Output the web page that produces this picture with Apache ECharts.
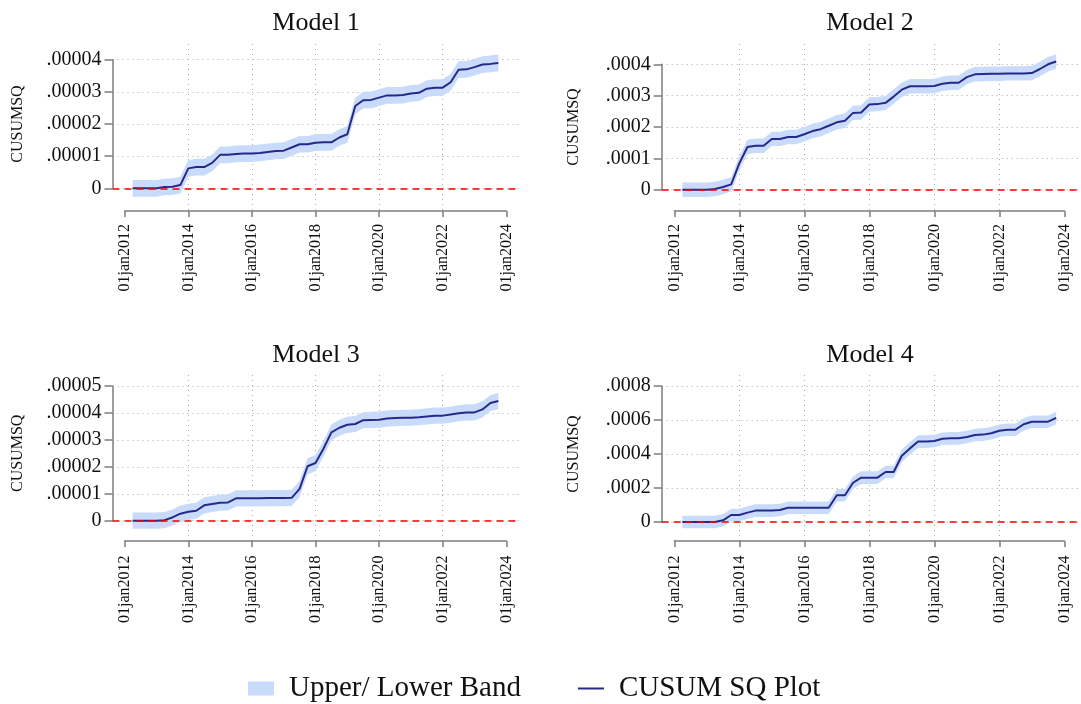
<!DOCTYPE html>
<html>
<head>
<meta charset="utf-8">
<title>CUSUM SQ</title>
<script src="https://cdn.jsdelivr.net/npm/echarts@6/dist/echarts.min.js"></script>
<style>
  html, body { margin: 0; padding: 0; background: #fff; }
  #main { width: 1081px; height: 704px; }
</style>
</head>
<body>
<div id="main"></div>
<script>
// quarterly observations
const quarters = [
  "2012q2", "2012q3", "2012q4",
  "2013q1", "2013q2", "2013q3", "2013q4",
  "2014q1", "2014q2", "2014q3", "2014q4",
  "2015q1", "2015q2", "2015q3", "2015q4",
  "2016q1", "2016q2", "2016q3", "2016q4",
  "2017q1", "2017q2", "2017q3", "2017q4",
  "2018q1", "2018q2", "2018q3", "2018q4",
  "2019q1", "2019q2", "2019q3", "2019q4",
  "2020q1", "2020q2", "2020q3", "2020q4",
  "2021q1", "2021q2", "2021q3", "2021q4",
  "2022q1", "2022q2", "2022q3", "2022q4",
  "2023q1", "2023q2", "2023q3", "2023q4"
];

const model1Cusum = [0, 0, 0, 0, 0.04e-5, 0.05e-5, 0.1e-5, 0.62e-5, 0.66e-5, 0.66e-5,
  0.79e-5, 1.04e-5, 1.04e-5, 1.07e-5, 1.08e-5, 1.08e-5, 1.1e-5, 1.13e-5, 1.16e-5, 1.17e-5,
  1.27e-5, 1.37e-5, 1.37e-5, 1.42e-5, 1.43e-5, 1.43e-5, 1.58e-5, 1.68e-5, 2.56e-5, 2.74e-5,
  2.75e-5, 2.82e-5, 2.89e-5, 2.89e-5, 2.9e-5, 2.95e-5, 2.97e-5, 3.1e-5, 3.13e-5, 3.13e-5,
  3.3e-5, 3.69e-5, 3.7e-5, 3.77e-5, 3.85e-5, 3.87e-5, 3.9e-5];

const model2Cusum = [0, 0, 0, 0, 0.02e-4, 0.085e-4, 0.17e-4, 0.84e-4, 1.36e-4, 1.4e-4,
  1.4e-4, 1.62e-4, 1.62e-4, 1.68e-4, 1.68e-4, 1.77e-4, 1.87e-4, 1.93e-4, 2.04e-4, 2.15e-4,
  2.2e-4, 2.45e-4, 2.46e-4, 2.72e-4, 2.73e-4, 2.77e-4, 2.97e-4, 3.19e-4, 3.3e-4, 3.3e-4,
  3.3e-4, 3.31e-4, 3.38e-4, 3.41e-4, 3.41e-4, 3.59e-4, 3.68e-4, 3.69e-4, 3.7e-4, 3.7e-4,
  3.71e-4, 3.71e-4, 3.71e-4, 3.72e-4, 3.85e-4, 4.0e-4, 4.09e-4];

const model3Cusum = [0, 0, 0, 0, 0.02e-5, 0.12e-5, 0.26e-5, 0.33e-5, 0.37e-5, 0.57e-5,
  0.62e-5, 0.67e-5, 0.68e-5, 0.83e-5, 0.83e-5, 0.83e-5, 0.83e-5, 0.84e-5, 0.84e-5, 0.84e-5,
  0.85e-5, 1.18e-5, 2.02e-5, 2.14e-5, 2.67e-5, 3.28e-5, 3.45e-5, 3.56e-5, 3.59e-5, 3.73e-5,
  3.74e-5, 3.75e-5, 3.79e-5, 3.81e-5, 3.82e-5, 3.82e-5, 3.84e-5, 3.87e-5, 3.9e-5, 3.9e-5,
  3.94e-5, 3.99e-5, 4.02e-5, 4.02e-5, 4.13e-5, 4.37e-5, 4.44e-5];

const model4Cusum = [0, 0, 0, 0, 0, 0.1e-4, 0.41e-4, 0.41e-4, 0.55e-4, 0.67e-4,
  0.67e-4, 0.67e-4, 0.71e-4, 0.84e-4, 0.84e-4, 0.84e-4, 0.84e-4, 0.84e-4, 0.84e-4, 1.57e-4,
  1.57e-4, 2.31e-4, 2.61e-4, 2.61e-4, 2.61e-4, 2.94e-4, 2.94e-4, 3.9e-4, 4.33e-4, 4.73e-4,
  4.73e-4, 4.76e-4, 4.9e-4, 4.92e-4, 4.92e-4, 5.0e-4, 5.12e-4, 5.14e-4, 5.22e-4, 5.37e-4,
  5.43e-4, 5.43e-4, 5.75e-4, 5.9e-4, 5.9e-4, 5.9e-4, 6.12e-4];

// half width of the upper/lower band per model
const bandHalfWidth = [2.6e-6, 2.3e-5, 3.0e-6, 3.7e-5];

const modelTitles = ["Model 1", "Model 2", "Model 3", "Model 4"];
const yMax = [4e-5, 4e-4, 5e-5, 8e-4];
const yStep = [1e-5, 1e-4, 1e-5, 2e-4];
const yTickLabels = [
  ["0", ".00001", ".00002", ".00003", ".00004"],
  ["0", ".0001", ".0002", ".0003", ".0004"],
  ["0", ".00001", ".00002", ".00003", ".00004", ".00005"],
  ["0", ".0002", ".0004", ".0006", ".0008"]
];
const xTickLabels = ["01jan2012", "01jan2014", "01jan2016", "01jan2018", "01jan2020", "01jan2022", "01jan2024"];

const allCusum = [model1Cusum, model2Cusum, model3Cusum, model4Cusum];

// layout (px)
const W = 1081;
const cols = [
  { axisX: 112.5, x2012: 124.7, x2024: 506.3, plotRight: 520, titleX: 316, nameGap: 87 },
  { axisX: 661.7, x2012: 674.3, x2024: 1064.3, plotRight: 1078, titleX: 870, nameGap: 80 }
];
const rows = [
  { vTop: 44, vBottom: 211, axisY: 217, titleTop: 10 },
  { vTop: 375, vBottom: 541, axisY: 548.5, titleTop: 342 }
];
const yPix = [[59.7, 188.3], [64.3, 189.7], [386, 520.7], [386, 522]];

const FONT = "Liberation Serif";
const navy = "#27298a";
const bandColor = "#c9dbfa";
const axisGray = "#7d7d7d";
const gridGray = "#a9a9a9";

function quarterToYear(q) {
  const y = parseInt(q.slice(0, 4), 10);
  const n = parseInt(q.slice(5), 10);
  return y + (n - 1) / 4;
}
const xYears = quarters.map(quarterToYear);

let grid = [], xAxis = [], yAxis = [], series = [], title = [];

for (let i = 0; i < 4; i++) {
  const c = cols[i % 2];
  const r = rows[Math.floor(i / 2)];
  const pxPerYear = (c.x2024 - c.x2012) / 12;
  const plotMin = 2012 - (c.x2012 - c.axisX) / pxPerYear;
  const plotMax = 2024 + (c.plotRight - c.x2024) / pxPerYear;
  const cus = allCusum[i];
  const h = bandHalfWidth[i];
  const bandData = xYears.map((x, k) => [x, cus[k] - h, cus[k] + h]);

  title.push({
    text: modelTitles[i],
    left: c.titleX,
    top: r.titleTop,
    textAlign: "center",
    padding: 0,
    textStyle: { fontFamily: FONT, fontSize: 26, fontWeight: "normal", color: "#111" }
  });

  // plot grid: data, y axis, horizontal grid lines
  grid.push({
    left: c.axisX,
    right: W - c.plotRight,
    top: yPix[i][0],
    height: yPix[i][1] - yPix[i][0]
  });
  const gp = grid.length - 1;
  xAxis.push({ type: "value", gridIndex: gp, min: plotMin, max: plotMax, show: false });
  yAxis.push({
    type: "value",
    gridIndex: gp,
    min: 0,
    max: yMax[i],
    interval: yStep[i],
    name: "CUSUMSQ",
    nameLocation: "middle",
    nameGap: c.nameGap,
    nameTextStyle: { fontFamily: FONT, fontSize: 16, color: "#111" },
    axisLine: { show: true, lineStyle: { color: axisGray, width: 1.5 } },
    axisTick: { show: true, length: 8, lineStyle: { color: axisGray, width: 1.5 } },
    axisLabel: {
      margin: 11,
      fontFamily: FONT,
      fontSize: 20,
      color: "#111",
      formatter: (v) => yTickLabels[i][Math.round(v / yStep[i])]
    },
    splitLine: { show: true, lineStyle: { color: gridGray, type: [1, 4], width: 1 } }
  });
  const ax = xAxis.length - 1;

  // x axis grid: date axis and vertical grid lines
  grid.push({
    left: c.x2012,
    right: W - c.x2024,
    top: r.vTop,
    height: r.vBottom - r.vTop
  });
  const gx = grid.length - 1;
  xAxis.push({
    type: "value",
    gridIndex: gx,
    min: 2012,
    max: 2024,
    interval: 2,
    position: "bottom",
    offset: r.axisY - r.vBottom,
    axisLine: { show: true, lineStyle: { color: axisGray, width: 1.5 } },
    axisTick: { show: true, length: 6, lineStyle: { color: axisGray, width: 1.5 } },
    axisLabel: {
      rotate: 90,
      margin: 7,
      fontFamily: FONT,
      fontSize: 16,
      color: "#111",
      formatter: (v) => xTickLabels[Math.round((v - 2012) / 2)]
    },
    splitLine: {
      show: true,
      showMinLine: false,
      showMaxLine: false,
      lineStyle: { color: gridGray, type: [1, 4], width: 1 }
    }
  });
  yAxis.push({ type: "value", gridIndex: gx, show: false });

  // upper / lower band as one polygon through the axis scales
  series.push({
    name: "Upper/ Lower Band",
    type: "custom",
    xAxisIndex: ax,
    yAxisIndex: ax,
    clip: false,
    silent: true,
    itemStyle: { color: bandColor },
    data: bandData,
    renderItem: function (params, api) {
      if (params.dataIndex !== 0) return;
      const upper = bandData.map((d) => api.coord([d[0], d[2]]));
      const lower = bandData.map((d) => api.coord([d[0], d[1]])).reverse();
      return {
        type: "polygon",
        shape: { points: upper.concat(lower) },
        style: { fill: bandColor }
      };
    },
    markLine: {
      silent: true,
      symbol: "none",
      label: { show: false },
      lineStyle: { color: "#ff0000", type: [7, 5], width: 1.5 },
      data: [{ yAxis: 0 }]
    },
    z: 2
  });
  series.push({
    name: "CUSUM SQ Plot",
    type: "line",
    xAxisIndex: ax,
    yAxisIndex: ax,
    symbol: "none",
    clip: false,
    itemStyle: { color: navy },
    lineStyle: { color: navy, width: 2 },
    data: xYears.map((x, k) => [x, cus[k]]),
    z: 4
  });
}

let myChart = echarts.init(document.getElementById("main"));
let option = {
  animation: false,
  backgroundColor: "#fff",
  title: title,
  grid: grid,
  xAxis: xAxis,
  yAxis: yAxis,
  legend: {
    left: 248,
    top: 674,
    padding: 0,
    itemWidth: 26,
    itemHeight: 14,
    itemGap: 57,
    selectedMode: false,
    symbolKeepAspect: true,
    textStyle: { fontFamily: FONT, fontSize: 29, color: "#111", padding: [0, 0, 0, 10] },
    data: [
      { name: "Upper/ Lower Band", icon: "rect", itemStyle: { color: bandColor } },
      { name: "CUSUM SQ Plot", icon: "path://M0,0 L26,0 L26,2 L0,2 Z", itemStyle: { color: navy } }
    ]
  },
  series: series
};
myChart.setOption(option);
window.addEventListener("resize", () => {
  myChart.resize();
});
</script>
</body>
</html>
